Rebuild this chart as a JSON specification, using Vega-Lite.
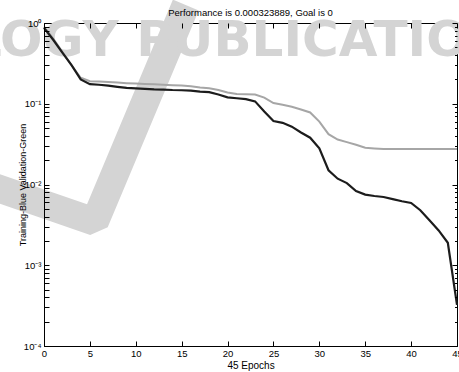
{
  "$schema": "https://vega.github.io/schema/vega-lite/v6.json",
  "width": 413,
  "height": 323,
  "autosize": "none",
  "padding": {"left": 44, "top": 23, "right": 2, "bottom": 26},
  "background": "white",
  "view": {"stroke": "black", "strokeWidth": 1},
  "title": {"text": "Performance is 0.000323889, Goal is 0", "font": "Liberation Sans", "fontSize": 9.5, "fontWeight": "normal", "color": "black", "frame": "group", "offset": -26},
  "datasets": {
    "perf": [
      {"epoch": 0, "value": 0.87, "series": "Training"},
      {"epoch": 1, "value": 0.62, "series": "Training"},
      {"epoch": 2, "value": 0.43, "series": "Training"},
      {"epoch": 3, "value": 0.30, "series": "Training"},
      {"epoch": 4, "value": 0.20, "series": "Training"},
      {"epoch": 5, "value": 0.175, "series": "Training"},
      {"epoch": 6, "value": 0.172, "series": "Training"},
      {"epoch": 7, "value": 0.168, "series": "Training"},
      {"epoch": 8, "value": 0.162, "series": "Training"},
      {"epoch": 9, "value": 0.157, "series": "Training"},
      {"epoch": 10, "value": 0.155, "series": "Training"},
      {"epoch": 11, "value": 0.153, "series": "Training"},
      {"epoch": 12, "value": 0.151, "series": "Training"},
      {"epoch": 13, "value": 0.150, "series": "Training"},
      {"epoch": 14, "value": 0.148, "series": "Training"},
      {"epoch": 15, "value": 0.147, "series": "Training"},
      {"epoch": 16, "value": 0.145, "series": "Training"},
      {"epoch": 17, "value": 0.141, "series": "Training"},
      {"epoch": 18, "value": 0.139, "series": "Training"},
      {"epoch": 19, "value": 0.130, "series": "Training"},
      {"epoch": 20, "value": 0.120, "series": "Training"},
      {"epoch": 21, "value": 0.117, "series": "Training"},
      {"epoch": 22, "value": 0.114, "series": "Training"},
      {"epoch": 23, "value": 0.107, "series": "Training"},
      {"epoch": 24, "value": 0.080, "series": "Training"},
      {"epoch": 25, "value": 0.061, "series": "Training"},
      {"epoch": 26, "value": 0.058, "series": "Training"},
      {"epoch": 27, "value": 0.052, "series": "Training"},
      {"epoch": 28, "value": 0.044, "series": "Training"},
      {"epoch": 29, "value": 0.038, "series": "Training"},
      {"epoch": 30, "value": 0.028, "series": "Training"},
      {"epoch": 31, "value": 0.015, "series": "Training"},
      {"epoch": 32, "value": 0.0118, "series": "Training"},
      {"epoch": 33, "value": 0.0104, "series": "Training"},
      {"epoch": 34, "value": 0.0083, "series": "Training"},
      {"epoch": 35, "value": 0.0075, "series": "Training"},
      {"epoch": 36, "value": 0.0072, "series": "Training"},
      {"epoch": 37, "value": 0.0070, "series": "Training"},
      {"epoch": 38, "value": 0.0066, "series": "Training"},
      {"epoch": 39, "value": 0.0062, "series": "Training"},
      {"epoch": 40, "value": 0.0059, "series": "Training"},
      {"epoch": 41, "value": 0.0048, "series": "Training"},
      {"epoch": 42, "value": 0.0036, "series": "Training"},
      {"epoch": 43, "value": 0.0027, "series": "Training"},
      {"epoch": 44, "value": 0.0019, "series": "Training"},
      {"epoch": 45, "value": 0.000323889, "series": "Training"},
      {"epoch": 0, "value": 0.90, "series": "Validation"},
      {"epoch": 1, "value": 0.64, "series": "Validation"},
      {"epoch": 2, "value": 0.44, "series": "Validation"},
      {"epoch": 3, "value": 0.30, "series": "Validation"},
      {"epoch": 4, "value": 0.21, "series": "Validation"},
      {"epoch": 5, "value": 0.19, "series": "Validation"},
      {"epoch": 6, "value": 0.188, "series": "Validation"},
      {"epoch": 7, "value": 0.186, "series": "Validation"},
      {"epoch": 8, "value": 0.183, "series": "Validation"},
      {"epoch": 9, "value": 0.180, "series": "Validation"},
      {"epoch": 10, "value": 0.178, "series": "Validation"},
      {"epoch": 11, "value": 0.176, "series": "Validation"},
      {"epoch": 12, "value": 0.174, "series": "Validation"},
      {"epoch": 13, "value": 0.172, "series": "Validation"},
      {"epoch": 14, "value": 0.170, "series": "Validation"},
      {"epoch": 15, "value": 0.168, "series": "Validation"},
      {"epoch": 16, "value": 0.165, "series": "Validation"},
      {"epoch": 17, "value": 0.159, "series": "Validation"},
      {"epoch": 18, "value": 0.156, "series": "Validation"},
      {"epoch": 19, "value": 0.148, "series": "Validation"},
      {"epoch": 20, "value": 0.138, "series": "Validation"},
      {"epoch": 21, "value": 0.132, "series": "Validation"},
      {"epoch": 22, "value": 0.131, "series": "Validation"},
      {"epoch": 23, "value": 0.130, "series": "Validation"},
      {"epoch": 24, "value": 0.119, "series": "Validation"},
      {"epoch": 25, "value": 0.102, "series": "Validation"},
      {"epoch": 26, "value": 0.097, "series": "Validation"},
      {"epoch": 27, "value": 0.092, "series": "Validation"},
      {"epoch": 28, "value": 0.085, "series": "Validation"},
      {"epoch": 29, "value": 0.078, "series": "Validation"},
      {"epoch": 30, "value": 0.060, "series": "Validation"},
      {"epoch": 31, "value": 0.042, "series": "Validation"},
      {"epoch": 32, "value": 0.036, "series": "Validation"},
      {"epoch": 33, "value": 0.0335, "series": "Validation"},
      {"epoch": 34, "value": 0.031, "series": "Validation"},
      {"epoch": 35, "value": 0.0285, "series": "Validation"},
      {"epoch": 36, "value": 0.028, "series": "Validation"},
      {"epoch": 37, "value": 0.0276, "series": "Validation"},
      {"epoch": 38, "value": 0.0275, "series": "Validation"},
      {"epoch": 39, "value": 0.0275, "series": "Validation"},
      {"epoch": 40, "value": 0.0275, "series": "Validation"},
      {"epoch": 41, "value": 0.0275, "series": "Validation"},
      {"epoch": 42, "value": 0.0275, "series": "Validation"},
      {"epoch": 43, "value": 0.0275, "series": "Validation"},
      {"epoch": 44, "value": 0.0275, "series": "Validation"},
      {"epoch": 45, "value": 0.0275, "series": "Validation"}
    ],
    "wmV": [
      {"epoch": -5.88, "value": 0.00972, "order": 1},
      {"epoch": 5.535, "value": 0.00345, "order": 2},
      {"epoch": 15.45, "value": 1.67, "order": 3}
    ],
    "wmText": [
      {"epoch": -8.06, "value": 0.39, "label": "LOGY PUBLICATIONS"}
    ]
  },
  "resolve": {"axis": {"x": "independent", "y": "independent"}},
  "layer": [
    {
      "data": {"name": "wmV"},
      "mark": {"type": "line", "color": "#d4d4d4", "strokeWidth": 28, "strokeJoin": "bevel", "strokeCap": "butt", "clip": false},
      "encoding": {
        "x": {"field": "epoch", "type": "quantitative", "scale": {"domain": [0, 45], "nice": false, "zero": false}, "axis": null},
        "y": {"field": "value", "type": "quantitative", "scale": {"type": "log", "domain": [0.0001, 1], "nice": false}, "axis": null},
        "order": {"field": "order"}
      }
    },
    {
      "data": {"name": "wmText"},
      "mark": {"type": "text", "font": "DejaVu Sans", "fontWeight": "bold", "fontSize": 50, "color": "#d4d4d4", "align": "left", "baseline": "alphabetic"},
      "encoding": {
        "x": {"field": "epoch", "type": "quantitative", "scale": {"domain": [0, 45], "nice": false, "zero": false}, "axis": null},
        "y": {"field": "value", "type": "quantitative", "scale": {"type": "log", "domain": [0.0001, 1], "nice": false}, "axis": null},
        "text": {"field": "label"}
      }
    },
    {
      "data": {"name": "perf"},
      "transform": [{"filter": "datum.series == 'Validation'"}],
      "mark": {"type": "line", "color": "#a6a6a6", "strokeWidth": 2},
      "encoding": {
        "x": {"field": "epoch", "type": "quantitative", "scale": {"domain": [0, 45], "nice": false, "zero": false}, "axis": null},
        "y": {"field": "value", "type": "quantitative", "scale": {"type": "log", "domain": [0.0001, 1], "nice": false}, "axis": null}
      }
    },
    {
      "data": {"name": "perf"},
      "transform": [{"filter": "datum.series == 'Training'"}],
      "mark": {"type": "line", "color": "#1c1c1c", "strokeWidth": 2.2},
      "encoding": {
        "x": {"field": "epoch", "type": "quantitative", "scale": {"domain": [0, 45], "nice": false, "zero": false},
          "axis": {"orient": "bottom", "values": [0, 5, 10, 15, 20, 25, 30, 35, 40, 45], "format": "d", "labelFlush": false, "labelOverlap": false, "grid": false, "tickSize": -5, "tickColor": "black", "domainColor": "black", "labelColor": "black", "labelFont": "Liberation Sans", "labelFontSize": 9.5, "labelPadding": 7, "title": "45 Epochs", "titleFont": "Liberation Sans", "titleFontSize": 10, "titleFontWeight": "normal", "titleColor": "black", "titlePadding": 3, "zindex": 1}},
        "y": {"field": "value", "type": "quantitative", "scale": {"type": "log", "domain": [0.0001, 1], "nice": false},
          "axis": {"orient": "left", "values": [0.0001,0.0002,0.0003,0.0004,0.0005,0.0006,0.0007,0.0008,0.0009,0.001,0.002,0.003,0.004,0.005,0.006,0.007,0.008,0.009,0.01,0.02,0.03,0.04,0.05,0.06,0.07,0.08,0.09,0.1,0.2,0.3,0.4,0.5,0.6,0.7,0.8,0.9,1],
            "labelExpr": "abs(log(datum.value)/LN10 - round(log(datum.value)/LN10)) < 0.001 ? ('10' + (round(log(datum.value)/LN10) == 0 ? '⁰' : round(log(datum.value)/LN10) == -1 ? '⁻¹' : round(log(datum.value)/LN10) == -2 ? '⁻²' : round(log(datum.value)/LN10) == -3 ? '⁻³' : '⁻⁴')) : ''",
            "tickSize": -5,
            "labelOverlap": false, "labelBound": false, "grid": false, "tickColor": "black", "domainColor": "black", "labelColor": "black", "labelFont": "Liberation Sans", "labelFontSize": 9.5, "labelPadding": 8,
            "title": "Training-Blue  Validation-Green", "titleFont": "Liberation Sans", "titleFontSize": 9, "titleFontWeight": "normal", "titleColor": "black", "titlePadding": -4, "zindex": 1}}
      }
    },
    {
      "data": {"name": "perf"},
      "mark": {"type": "line", "strokeOpacity": 0},
      "encoding": {
        "x": {"field": "epoch", "type": "quantitative", "scale": {"domain": [0, 45], "nice": false, "zero": false},
          "axis": {"orient": "top", "values": [0, 5, 10, 15, 20, 25, 30, 35, 40, 45], "labels": false, "domain": false, "grid": false, "tickSize": -5, "tickColor": "black", "title": null, "zindex": 1}},
        "y": {"field": "value", "type": "quantitative", "scale": {"type": "log", "domain": [0.0001, 1], "nice": false},
          "axis": {"orient": "right", "values": [0.0001,0.0002,0.0003,0.0004,0.0005,0.0006,0.0007,0.0008,0.0009,0.001,0.002,0.003,0.004,0.005,0.006,0.007,0.008,0.009,0.01,0.02,0.03,0.04,0.05,0.06,0.07,0.08,0.09,0.1,0.2,0.3,0.4,0.5,0.6,0.7,0.8,0.9,1],
            "labels": false, "domain": false, "grid": false, "tickColor": "black", "title": null, "zindex": 1,
            "tickSize": {"condition": {"test": "abs(log(datum.value)/LN10 - round(log(datum.value)/LN10)) < 0.001", "value": -5}, "value": -2.5}}},
        "detail": {"field": "series"}
      }
    }
  ]
}
